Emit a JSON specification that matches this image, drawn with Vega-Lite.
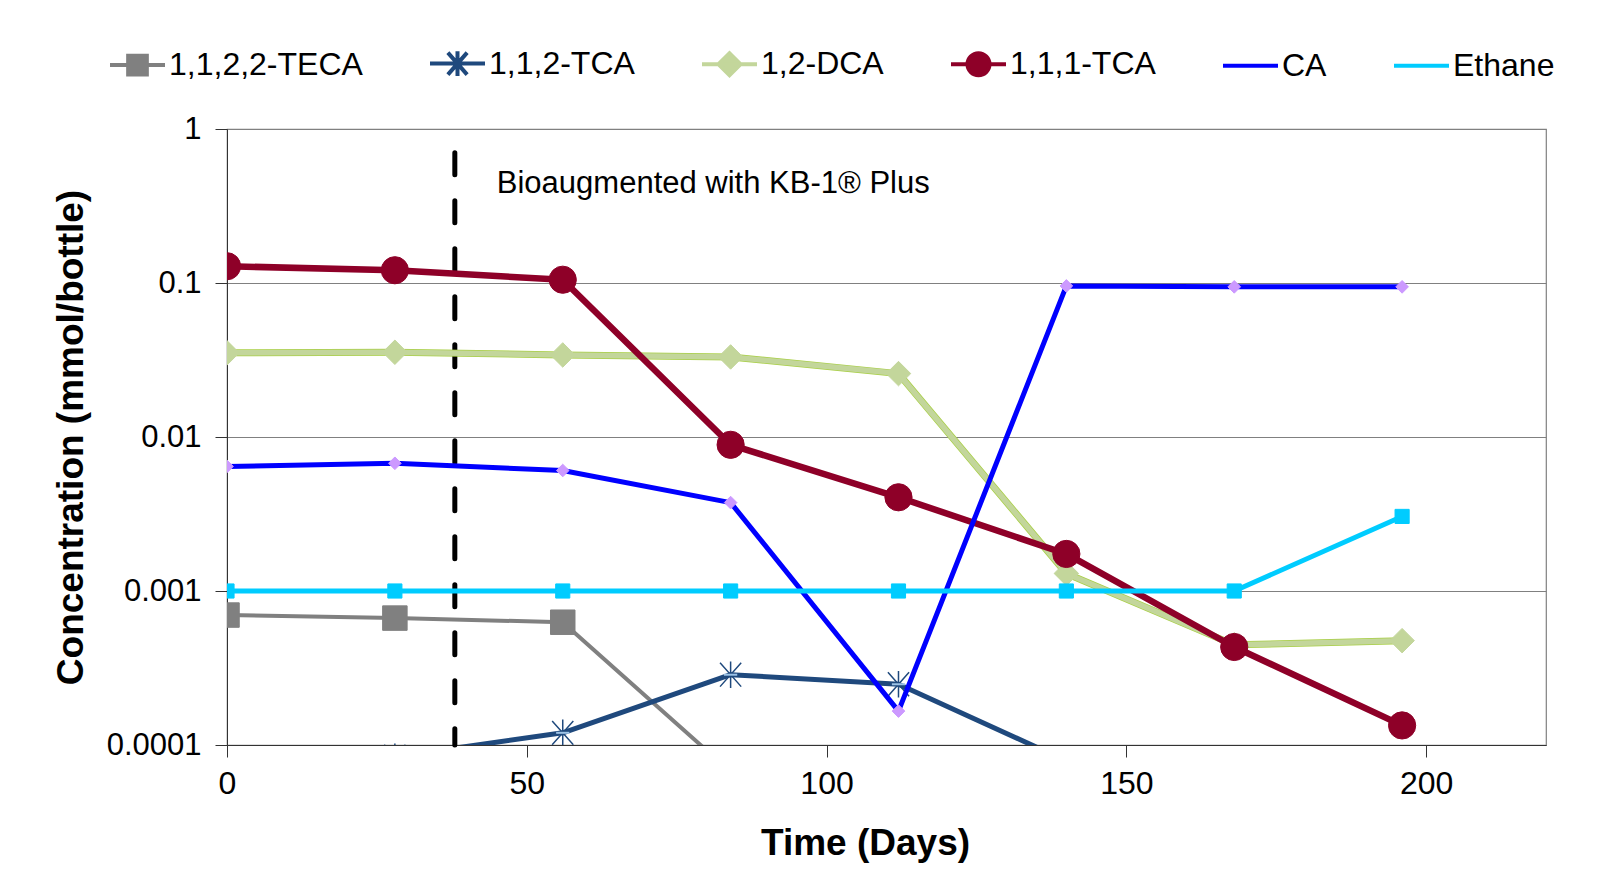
{
  "$schema": "https://vega.github.io/schema/vega-lite/v6.json",
  "width": 1319,
  "height": 616,
  "autosize": {"type": "none"},
  "padding": {"left": 227, "top": 129, "right": 72, "bottom": 127},
  "background": "white",
  "config": {
    "font": "Liberation Sans",
    "view": {"stroke": "#808080", "strokeWidth": 1.2}
  },
  "datasets": {
    "conc": [
      {"series": "1,1,2,2-TECA", "day": 0, "value": 0.000698},
      {"series": "1,1,2,2-TECA", "day": 28, "value": 0.000667},
      {"series": "1,1,2,2-TECA", "day": 56, "value": 0.000627},
      {"series": "1,1,2,2-TECA", "day": 84, "value": 0.000067},
      {"series": "1,1,2-TCA", "day": 28, "value": 0.000084},
      {"series": "1,1,2-TCA", "day": 56, "value": 0.000120},
      {"series": "1,1,2-TCA", "day": 84, "value": 0.000286},
      {"series": "1,1,2-TCA", "day": 112, "value": 0.000248},
      {"series": "1,1,2-TCA", "day": 140, "value": 0.000079},
      {"series": "1,2-DCA", "day": 0, "value": 0.0352},
      {"series": "1,2-DCA", "day": 28, "value": 0.0355},
      {"series": "1,2-DCA", "day": 56, "value": 0.0341},
      {"series": "1,2-DCA", "day": 84, "value": 0.0331},
      {"series": "1,2-DCA", "day": 112, "value": 0.0258},
      {"series": "1,2-DCA", "day": 140, "value": 0.0013},
      {"series": "1,2-DCA", "day": 168, "value": 0.000447},
      {"series": "1,2-DCA", "day": 196, "value": 0.000476},
      {"series": "1,1,1-TCA", "day": 0, "value": 0.1285},
      {"series": "1,1,1-TCA", "day": 28, "value": 0.121},
      {"series": "1,1,1-TCA", "day": 56, "value": 0.105},
      {"series": "1,1,1-TCA", "day": 84, "value": 0.0089},
      {"series": "1,1,1-TCA", "day": 112, "value": 0.00406},
      {"series": "1,1,1-TCA", "day": 140, "value": 0.00174},
      {"series": "1,1,1-TCA", "day": 168, "value": 0.000433},
      {"series": "1,1,1-TCA", "day": 196, "value": 0.000134},
      {"series": "CA", "day": 0, "value": 0.00644},
      {"series": "CA", "day": 28, "value": 0.00675},
      {"series": "CA", "day": 56, "value": 0.00606},
      {"series": "CA", "day": 84, "value": 0.00375},
      {"series": "CA", "day": 112, "value": 0.000166},
      {"series": "CA", "day": 140, "value": 0.0957},
      {"series": "CA", "day": 168, "value": 0.0944},
      {"series": "CA", "day": 196, "value": 0.0944},
      {"series": "Ethane", "day": 0, "value": 0.001},
      {"series": "Ethane", "day": 28, "value": 0.001},
      {"series": "Ethane", "day": 56, "value": 0.001},
      {"series": "Ethane", "day": 84, "value": 0.001},
      {"series": "Ethane", "day": 112, "value": 0.001},
      {"series": "Ethane", "day": 140, "value": 0.001},
      {"series": "Ethane", "day": 168, "value": 0.001},
      {"series": "Ethane", "day": 196, "value": 0.00305}
    ],
    "events": [
      {"day": 38, "top": 0.7, "bottom": 0.0001, "label_day": 45, "label_value": 0.44, "label": "Bioaugmented with KB-1® Plus"}
    ]
  },
  "layer": [
    {
      "data": {"name": "conc"},
      "transform": [{"filter": "false"}],
      "mark": {"type": "point", "filled": true, "opacity": 1},
      "encoding": {
        "x": {
          "field": "day", "type": "quantitative",
          "scale": {"domain": [0, 220], "nice": false},
          "axis": {
            "values": [0, 50, 100, 150, 200], "grid": false, "title": "Time (Days)",
            "titleFontSize": 37, "titleFontWeight": "bold", "titleColor": "black", "titlePadding": 26,
            "titleX": 638,
            "labelFontSize": 32, "labelColor": "black", "labelPadding": 11,
            "tickSize": 12, "tickColor": "#333", "domainColor": "#333", "labelFlush": false
          }
        },
        "y": {
          "field": "value", "type": "quantitative",
          "scale": {"type": "log", "domain": [0.0001, 1]},
          "axis": {
            "values": [0.0001, 0.001, 0.01, 0.1, 1], "format": "~g", "grid": true,
            "gridColor": "#808080", "gridWidth": 1.2, "gridOpacity": 1,
            "title": "Concentration (mmol/bottle)", "titleFontSize": 37, "titleFontWeight": "bold",
            "titleColor": "black", "titlePadding": 16,
            "labelFontSize": 31, "labelColor": "black", "labelPadding": 14,
            "tickSize": 12, "tickColor": "#333", "domainColor": "#333", "labelFlush": false
          }
        },
        "color": {
          "field": "series", "type": "nominal",
          "scale": {
            "domain": ["1,1,2,2-TECA", "1,1,2-TCA", "1,2-DCA", "1,1,1-TCA", "CA", "Ethane"],
            "range": ["#808080", "#1F497D", "#C3D69B", "#8E0028", "#0000FF", "#00CCFF"]
          },
          "legend": {
            "orient": "none", "legendX": -119, "legendY": -95, "direction": "horizontal",
            "title": null, "labelFontSize": 32, "labelColor": "black", "labelOffset": 2, "labelLimit": 500,
            "columnPadding": 59, "symbolSize": 3025, "symbolStrokeWidth": 4, "symbolOpacity": 1
          }
        },
        "stroke": {
          "field": "series", "type": "nominal",
          "scale": {
            "domain": ["1,1,2,2-TECA", "1,1,2-TCA", "1,2-DCA", "1,1,1-TCA", "CA", "Ethane"],
            "range": ["#808080", "#1F497D", "#C3D69B", "#8E0028", "#0000FF", "#00CCFF"]
          }
        },
        "shape": {
          "field": "series", "type": "nominal",
          "scale": {
            "domain": ["1,1,2,2-TECA", "1,1,2-TCA", "1,2-DCA", "1,1,1-TCA", "CA", "Ethane"],
            "range": [
              "M-1,0H1M-0.34,-0.34H0.34V0.34H-0.34Z",
              "M-1,0H1M0,-0.45V0.45M-0.35,-0.4L0.35,0.4M-0.35,0.4L0.35,-0.4",
              "M-1,0H1M-0.4,0L0,-0.4L0.4,0L0,0.4Z",
              "M-1,0H1M-0.4,0A0.4,0.4 0 1,0 0.4,0A0.4,0.4 0 1,0 -0.4,0Z",
              "M-1,0H1",
              "M-1,0H1"
            ]
          }
        }
      }
    },
    {
      "data": {"name": "events"},
      "mark": {"type": "rule", "color": "black", "strokeWidth": 5, "strokeDash": [22, 26], "strokeCap": "round"},
      "encoding": {
        "x": {"field": "day", "type": "quantitative", "scale": {"domain": [0, 220], "nice": false}},
        "y": {"field": "top", "type": "quantitative", "scale": {"type": "log", "domain": [0.0001, 1]}},
        "y2": {"field": "bottom"}
      }
    },
    {
      "data": {"name": "events"},
      "mark": {"type": "text", "align": "left", "baseline": "middle", "fontSize": 31, "color": "black"},
      "encoding": {
        "x": {"field": "label_day", "type": "quantitative", "scale": {"domain": [0, 220], "nice": false}},
        "y": {"field": "label_value", "type": "quantitative", "scale": {"type": "log", "domain": [0.0001, 1]}},
        "text": {"field": "label"}
      }
    },
    {
      "data": {"name": "conc"},
      "transform": [{"filter": "datum.series === '1,1,2,2-TECA'"}],
      "mark": {"type": "line", "clip": true, "strokeWidth": 4, "strokeJoin": "round", "color": "#808080"},
      "encoding": {
        "x": {"field": "day", "type": "quantitative", "scale": {"domain": [0, 220], "nice": false}},
        "y": {"field": "value", "type": "quantitative", "scale": {"type": "log", "domain": [0.0001, 1]}}
      }
    },
    {
      "data": {"name": "conc"},
      "transform": [{"filter": "datum.series === '1,1,2,2-TECA'"}],
      "mark": {"type": "point", "shape": "square", "size": 600, "filled": true, "opacity": 1, "fill": "#808080", "stroke": "#808080", "strokeWidth": 1, "clip": true},
      "encoding": {
        "x": {"field": "day", "type": "quantitative", "scale": {"domain": [0, 220], "nice": false}},
        "y": {"field": "value", "type": "quantitative", "scale": {"type": "log", "domain": [0.0001, 1]}}
      }
    },
    {
      "data": {"name": "conc"},
      "transform": [{"filter": "datum.series === '1,1,2-TCA'"}],
      "mark": {"type": "line", "clip": true, "strokeWidth": 5, "strokeJoin": "round", "color": "#1F497D"},
      "encoding": {
        "x": {"field": "day", "type": "quantitative", "scale": {"domain": [0, 220], "nice": false}},
        "y": {"field": "value", "type": "quantitative", "scale": {"type": "log", "domain": [0.0001, 1]}}
      }
    },
    {
      "data": {"name": "conc"},
      "transform": [{"filter": "datum.series === '1,1,2-TCA'"}],
      "mark": {"type": "point", "shape": "M0,-1V1M-0.8,-0.9L0.8,0.9M-0.8,0.9L0.8,-0.9", "size": 700, "filled": false, "opacity": 1, "stroke": "#1F497D", "strokeWidth": 1.5, "clip": true},
      "encoding": {
        "x": {"field": "day", "type": "quantitative", "scale": {"domain": [0, 220], "nice": false}},
        "y": {"field": "value", "type": "quantitative", "scale": {"type": "log", "domain": [0.0001, 1]}}
      }
    },
    {
      "data": {"name": "conc"},
      "transform": [{"filter": "datum.series === '1,1,2-TCA'"}],
      "mark": {"type": "point", "shape": "M-0.5,0H0.5", "size": 700, "filled": false, "opacity": 1, "stroke": "#9DC3E6", "strokeWidth": 2, "clip": true},
      "encoding": {
        "x": {"field": "day", "type": "quantitative", "scale": {"domain": [0, 220], "nice": false}},
        "y": {"field": "value", "type": "quantitative", "scale": {"type": "log", "domain": [0.0001, 1]}}
      }
    },
    {
      "data": {"name": "conc"},
      "transform": [{"filter": "datum.series === '1,2-DCA'"}],
      "mark": {"type": "line", "clip": true, "strokeWidth": 7, "strokeJoin": "round", "color": "#A9CF46"},
      "encoding": {
        "x": {"field": "day", "type": "quantitative", "scale": {"domain": [0, 220], "nice": false}},
        "y": {"field": "value", "type": "quantitative", "scale": {"type": "log", "domain": [0.0001, 1]}}
      }
    },
    {
      "data": {"name": "conc"},
      "transform": [{"filter": "datum.series === '1,2-DCA'"}],
      "mark": {"type": "line", "clip": true, "strokeWidth": 5.5, "strokeJoin": "round", "color": "#C3D69B"},
      "encoding": {
        "x": {"field": "day", "type": "quantitative", "scale": {"domain": [0, 220], "nice": false}},
        "y": {"field": "value", "type": "quantitative", "scale": {"type": "log", "domain": [0.0001, 1]}}
      }
    },
    {
      "data": {"name": "conc"},
      "transform": [{"filter": "datum.series === '1,2-DCA'"}],
      "mark": {"type": "point", "shape": "diamond", "size": 600, "filled": true, "opacity": 1, "fill": "#C3D69B", "stroke": "#C3D69B", "strokeWidth": 1, "clip": true},
      "encoding": {
        "x": {"field": "day", "type": "quantitative", "scale": {"domain": [0, 220], "nice": false}},
        "y": {"field": "value", "type": "quantitative", "scale": {"type": "log", "domain": [0.0001, 1]}}
      }
    },
    {
      "data": {"name": "conc"},
      "transform": [{"filter": "datum.series === '1,1,1-TCA'"}],
      "mark": {"type": "line", "clip": true, "strokeWidth": 6.5, "strokeJoin": "round", "color": "#8E0028"},
      "encoding": {
        "x": {"field": "day", "type": "quantitative", "scale": {"domain": [0, 220], "nice": false}},
        "y": {"field": "value", "type": "quantitative", "scale": {"type": "log", "domain": [0.0001, 1]}}
      }
    },
    {
      "data": {"name": "conc"},
      "transform": [{"filter": "datum.series === '1,1,1-TCA'"}],
      "mark": {"type": "point", "shape": "circle", "size": 740, "filled": true, "opacity": 1, "fill": "#8E0028", "stroke": "#8E0028", "strokeWidth": 1, "clip": true},
      "encoding": {
        "x": {"field": "day", "type": "quantitative", "scale": {"domain": [0, 220], "nice": false}},
        "y": {"field": "value", "type": "quantitative", "scale": {"type": "log", "domain": [0.0001, 1]}}
      }
    },
    {
      "data": {"name": "conc"},
      "transform": [{"filter": "datum.series === 'CA'"}],
      "mark": {"type": "line", "clip": true, "strokeWidth": 5, "strokeJoin": "round", "color": "#0000FF"},
      "encoding": {
        "x": {"field": "day", "type": "quantitative", "scale": {"domain": [0, 220], "nice": false}},
        "y": {"field": "value", "type": "quantitative", "scale": {"type": "log", "domain": [0.0001, 1]}}
      }
    },
    {
      "data": {"name": "conc"},
      "transform": [{"filter": "datum.series === 'CA'"}],
      "mark": {"type": "point", "shape": "diamond", "size": 160, "filled": true, "opacity": 1, "fill": "#CC99FF", "stroke": "#CC99FF", "strokeWidth": 1, "clip": true},
      "encoding": {
        "x": {"field": "day", "type": "quantitative", "scale": {"domain": [0, 220], "nice": false}},
        "y": {"field": "value", "type": "quantitative", "scale": {"type": "log", "domain": [0.0001, 1]}}
      }
    },
    {
      "data": {"name": "conc"},
      "transform": [{"filter": "datum.series === 'Ethane'"}],
      "mark": {"type": "line", "clip": true, "strokeWidth": 5, "strokeJoin": "round", "color": "#00CCFF"},
      "encoding": {
        "x": {"field": "day", "type": "quantitative", "scale": {"domain": [0, 220], "nice": false}},
        "y": {"field": "value", "type": "quantitative", "scale": {"type": "log", "domain": [0.0001, 1]}}
      }
    },
    {
      "data": {"name": "conc"},
      "transform": [{"filter": "datum.series === 'Ethane'"}],
      "mark": {"type": "point", "shape": "square", "size": 200, "filled": true, "opacity": 1, "fill": "#00CCFF", "stroke": "#00CCFF", "strokeWidth": 1, "clip": true},
      "encoding": {
        "x": {"field": "day", "type": "quantitative", "scale": {"domain": [0, 220], "nice": false}},
        "y": {"field": "value", "type": "quantitative", "scale": {"type": "log", "domain": [0.0001, 1]}}
      }
    }
  ]
}
